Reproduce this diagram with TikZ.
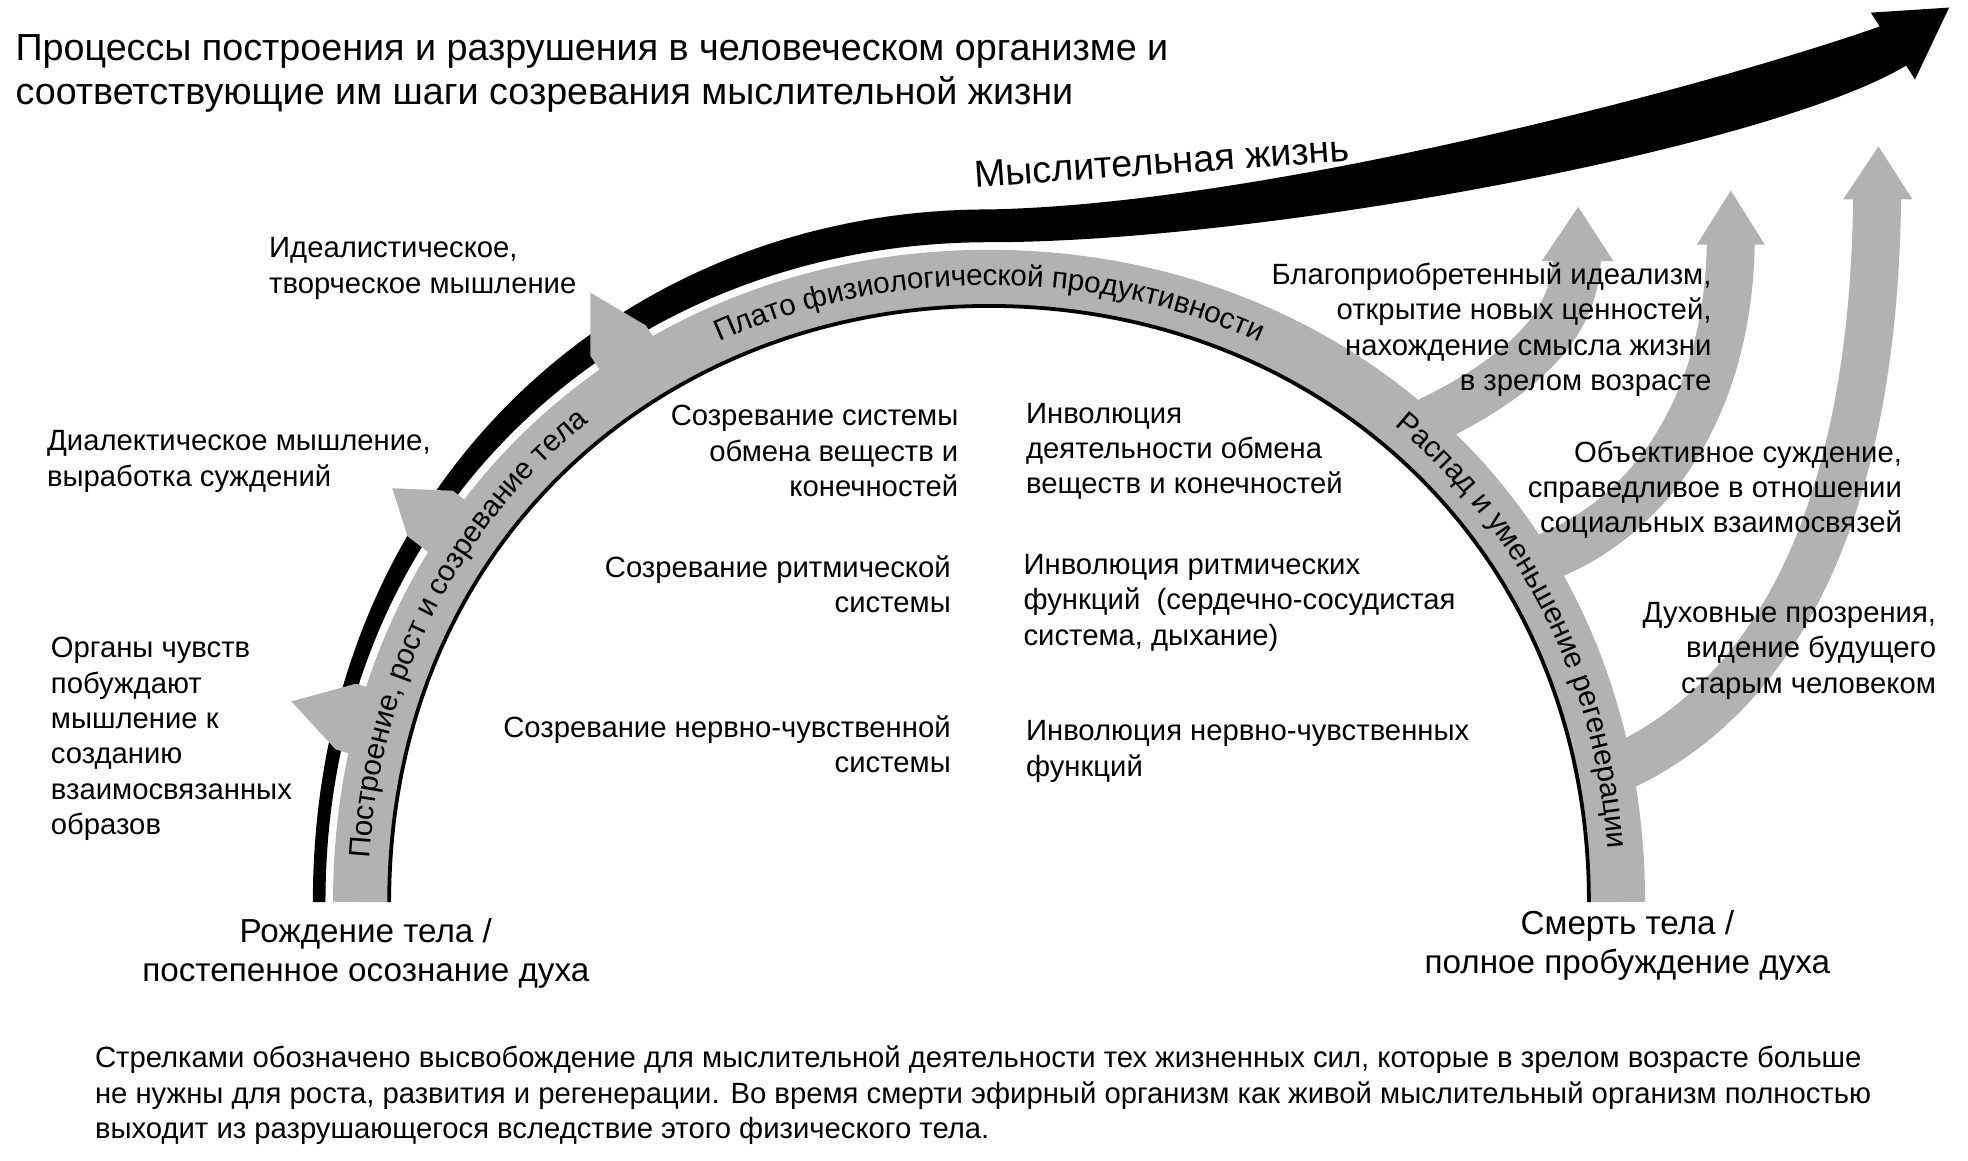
\documentclass[tikz,border=0pt]{standalone}
\usepackage{fontspec}
\setmainfont{Liberation Sans}
\usetikzlibrary{decorations.text}
\definecolor{archgray}{RGB}{178,178,178}

\begin{document}
\begin{tikzpicture}[x = 0.2mm, y = -0.2mm,
    every node/.style = {inner sep = 0pt, font = \fontsize{13.2}{15.94}\selectfont},
    leftlbl/.style = {align = left, anchor = north west},
    rightlbl/.style = {align = right, anchor = north east},
    endlbl/.style = {align = center, anchor = north, font = \fontsize{15}{17.6}\selectfont},
    band/.style = {draw = archgray, line width = 8.8mm},
    shoot/.style = {draw = archgray, line width = 7.6mm},
    head/.style = {fill = archgray},
    bandtext/.style = {decorate, decoration = {text along path, raise = -1.2mm,
        text = {|\fontsize{13.4}{15}\selectfont|#1}}}]
    \useasboundingbox (0,0) rectangle (1560,920.3);
    \fill (248,715) .. controls (248,387.8) and (489.2,166) .. (784,166)
        .. controls (1000,162) and (1350,70) .. (1490,21) -- (1483,10) -- (1545,6)
        -- (1518,63) -- (1511,52) .. controls (1400,118) and (1000,192) .. (784,192)
        .. controls (494.7,192) and (258,403.3) .. (258,715) -- cycle;
    \draw[band] (286,715) .. controls (286,420) and (510,220) .. (784,220)
        .. controls (1058,220) and (1282,420) .. (1282,715);
    \draw[shoot] (1120,340) .. controls (1195,305) and (1248,265) .. (1250,205);
    \fill[head] (1222,207) -- (1251,164) -- (1279,207) -- cycle;
    \draw[shoot] (1210,447) .. controls (1300,420) and (1370,330) .. (1372,192);
    \fill[head] (1345,194) -- (1372,151) -- (1399,194) -- cycle;
    \draw[shoot] (1274,613) .. controls (1400,560) and (1485,420) .. (1488,156);
    \fill[head] (1461,158) -- (1489,116) -- (1516,158) -- cycle;
    \fill[head] (231,556) -- (282,542) -- (306,549) -- (290,601) -- (266,594) -- cycle;
    \fill[head] (311,387) -- (359,389) -- (381,406) -- (345,442) -- (323,425) -- cycle;
    \fill[head] (468,232) -- (512,258) -- (527,281) -- (483,305) -- (468,282) -- cycle;
    \draw[line width = 0.6mm] (308.5,715) .. controls (308.5,433.4) and (522.5,242.5) .. (784,242.5)
        .. controls (1045.5,242.5) and (1259.5,433.4) .. (1259.5,715);
    \path[bandtext = {Построение, рост и созревание тела}, decoration = {text align = {left indent = 7mm}}]
        (286,715) .. controls (286,420) and (510,220) .. (784,220);
    \path[bandtext = {Плато физиологической продуктивности}, decoration = {text align = center}]
        (286,715) .. controls (286,420) and (510,220) .. (784,220)
        .. controls (1058,220) and (1282,420) .. (1282,715);
    \path[bandtext = {Распад и уменьшение регенерации}, decoration = {text align = {right, right indent = 8.6mm}}]
        (784,220) .. controls (1058,220) and (1282,420) .. (1282,715);
    \node[leftlbl, font = \fontsize{17}{19.9}\selectfont] (title) at (12,27)
        {Процессы построения и разрушения в человеческом организме и\\соответствующие им шаги созревания мыслительной жизни};
    \node[rotate = 4, font = \fontsize{17}{20}\selectfont] (life) at (921,128) {Мыслительная жизнь};
    \node[leftlbl] (ideal) at (213,188) {Идеалистическое,\\творческое мышление};
    \node[leftlbl] (dialect) at (37,341) {Диалектическое мышление,\\выработка суждений};
    \node[leftlbl] (senses) at (40,505) {Органы чувств\\побуждают\\мышление к\\созданию\\взаимосвязанных\\образов};
    \node[rightlbl] (metab) at (760,321) {Созревание системы\\обмена веществ и\\конечностей};
    \node[rightlbl] (rhythm) at (754,440) {Созревание ритмической\\системы};
    \node[rightlbl] (nerve) at (754,567) {Созревание нервно-чувственной\\системы};
    \node[leftlbl] (invmetab) at (813,319) {Инволюция\\деятельности обмена\\веществ и конечностей};
    \node[leftlbl] (invrhythm) at (811,439) {Инволюция ритмических\\функций \ (сердечно-сосудистая\\система, дыхание)};
    \node[leftlbl] (invnerve) at (813,571) {Инволюция нервно-чувственных\\функций};
    \node[rightlbl] (idealism) at (1357,208) {Благоприобретенный идеализм,\\открытие новых ценностей,\\нахождение смысла жизни\\в зрелом возрасте};
    \node[rightlbl] (judgement) at (1508,349) {Объективное суждение,\\справедливое в отношении\\социальных взаимосвязей};
    \node[rightlbl] (insight) at (1535,477) {Духовные прозрения,\\видение будущего\\старым человеком};
    \node[endlbl] (birth) at (290,728) {Рождение тела /\\постепенное осознание духа};
    \node[endlbl] (death) at (1290,721) {Смерть тела /\\полное пробуждение духа};
    \node[leftlbl] (note) at (75,829) {Стрелками обозначено высвобождение для мыслительной деятельности тех жизненных сил, которые в зрелом возрасте больше\\не нужны для роста, развития и регенерации. Во время смерти эфирный организм как живой мыслительный организм полностью\\выходит из разрушающегося вследствие этого физического тела.};
\end{tikzpicture}
\end{document}
